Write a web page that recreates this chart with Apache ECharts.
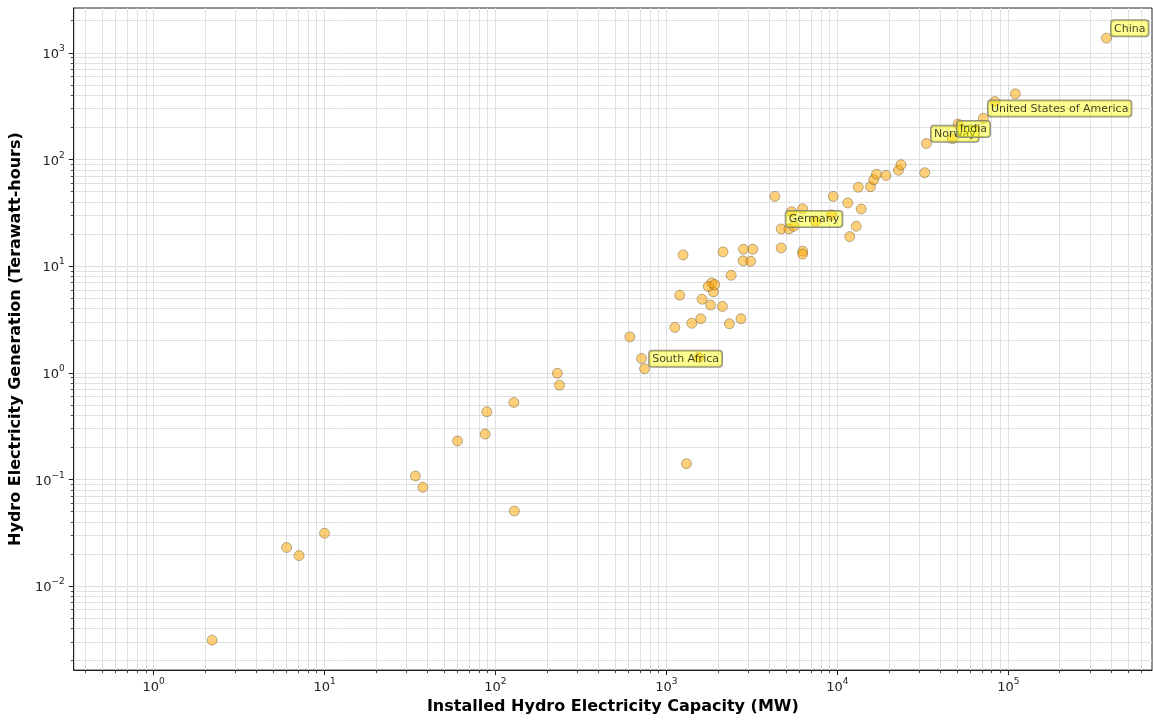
<!DOCTYPE html>
<html>
<head>
<meta charset="utf-8">
<script src="https://cdn.jsdelivr.net/npm/echarts@6/dist/echarts.min.js"></script>
<style>
html, body { margin: 0; padding: 0; background: #fff; }
#chart { width: 1153px; height: 720px; }
</style>
</head>
<body>
<div id="chart"></div>
<script>
// installed capacity (MW) and generation (TWh), one entry per country
const capacityMW = [2.2, 6.0, 7.1, 10, 34, 37.6, 60, 87, 89, 128, 129, 230, 237, 611, 715, 745, 1311, 1120, 1407, 1588,
  2336, 2731, 1197, 1616, 1812, 2127, 1884, 1842, 1757, 1917, 2393, 1252, 2144, 2824, 3205, 2813, 3112, 4690, 6280, 6263,
  4690, 5209, 5570, 4314, 5401, 6263, 7459, 9250, 9463, 11515, 13790, 12893, 11814, 13264, 15624, 16340, 16943, 19253,
  22779, 23560, 32440, 33190, 47100, 50840, 71450, 83400, 109900, 375200, 1546]
const generationTWh = [0.00311, 0.0230, 0.0193, 0.0313, 0.1076, 0.0843, 0.229, 0.266, 0.431, 0.527, 0.0506, 0.99, 0.765,
  2.17, 1.36, 1.09, 0.1406, 2.66, 2.91, 3.21, 2.88, 3.21, 5.33, 4.89, 4.31, 4.19, 5.73, 6.96, 6.45, 6.71, 8.20, 12.73,
  13.6, 14.4, 14.4, 11.2, 11.1, 14.8, 13.8, 12.95, 22.3, 22.3, 23.6, 45.0, 32.4, 34.5, 26.4, 30.3, 45.0, 39.1, 34.3,
  23.6, 18.9, 54.9, 55.5, 64.5, 72.7, 70.8, 79.2, 89.2, 75.1, 140.9, 156.2, 214.6, 243, 349, 412, 1370, 1.39]

// annotated countries (index into the arrays above)
const annotationNames = ['South Africa', 'Germany', 'Norway', 'India', 'United States of America', 'China']
const annotationIndex = [15, 40, 61, 62, 64, 67]

// major tick values
const xMajorTicks = [1, 10, 100, 1000, 10000, 100000]
const yMajorTicks = [0.01, 0.1, 1, 10, 100, 1000]

const X_MIN = 0.341
const X_MAX = 693000
const Y_MIN = 0.00163
const Y_MAX = 2630

const FONT = 'DejaVu Sans'
const GRID_COLOR = '#e0e0e0'

// 2..9 x 10^k inside [lo, hi]
function minorTicks (lo, hi) {
  const out = []
  for (let k = Math.floor(Math.log10(lo)); k <= Math.ceil(Math.log10(hi)); k++) {
    for (let m = 2; m <= 9; m++) {
      const v = m * Math.pow(10, k)
      if (v >= lo && v <= hi) out.push(v)
    }
  }
  return out
}

function powLabel (v) {
  const e = Math.round(Math.log10(v))
  return '{b|10}{s|' + (e < 0 ? '\u2212' + (-e) : e) + '}'
}

const labelRich = {
  b: { fontFamily: FONT, fontSize: 13, color: '#222', padding: [4, 0, 0, 0], verticalAlign: 'bottom' },
  s: { fontFamily: FONT, fontSize: 9, color: '#222', verticalAlign: 'top' }
}

function majorAxis (min, max, ticks, margin) {
  return {
    type: 'log',
    logBase: 10,
    min: min,
    max: max,
    gridIndex: 0,
    axisLine: { show: true, onZero: false, lineStyle: { color: '#222', width: 1 } },
    axisTick: { show: true, length: 5, customValues: ticks, lineStyle: { color: '#222', width: 1 } },
    axisLabel: { customValues: ticks, formatter: powLabel, margin: margin, rich: labelRich },
    splitLine: { show: true, lineStyle: { color: GRID_COLOR, width: 1 } },
    nameTextStyle: { fontFamily: FONT, fontSize: 16, fontWeight: 'bold', color: '#000' }
  }
}

function minorAxis (min, max, pos) {
  const ticks = minorTicks(min, max)
  return {
    type: 'log',
    logBase: 10,
    min: min,
    max: max,
    gridIndex: 0,
    position: pos,
    axisLine: { show: false, onZero: false },
    axisTick: { show: true, length: 3, customValues: ticks, lineStyle: { color: '#222', width: 0.8 } },
    axisLabel: { show: false },
    splitLine: { show: true, lineStyle: { color: GRID_COLOR, width: 1 } }
  }
}

const xMain = majorAxis(X_MIN, X_MAX, xMajorTicks, 7)
xMain.position = 'bottom'
xMain.name = 'Installed Hydro Electricity Capacity (MW)'
xMain.nameLocation = 'middle'
xMain.nameGap = 26

const yMain = majorAxis(Y_MIN, Y_MAX, yMajorTicks, 9)
yMain.position = 'left'
yMain.name = 'Hydro Electricity Generation (Terawatt-hours)'
yMain.nameLocation = 'middle'
yMain.nameGap = 46

const points = capacityMW.map(function (x, i) {
  const item = { value: [x, generationTWh[i]] }
  const j = annotationIndex.indexOf(i)
  if (j >= 0) {
    item.name = annotationNames[j]
    item.label = {
      show: true,
      formatter: '{b}',
      position: [10, 3.5],
      align: 'left',
      verticalAlign: 'bottom',
      fontFamily: FONT,
      fontSize: 11,
      lineHeight: 13,
      color: '#111',
      backgroundColor: 'rgba(255,255,0,0.55)',
      borderColor: '#777',
      borderWidth: 1,
      borderRadius: 3,
      padding: [2, 3, 1, 3]
    }
  }
  return item
})

const chart = echarts.init(document.getElementById('chart'))
chart.setOption({
  animation: false,
  grid: {
    left: 72, top: 8, right: 1, bottom: 49,
    show: true, borderColor: '#222', borderWidth: 1, backgroundColor: '#fff'
  },
  xAxis: [xMain, minorAxis(X_MIN, X_MAX, 'bottom')],
  yAxis: [yMain, minorAxis(Y_MIN, Y_MAX, 'left')],
  series: [{
    type: 'scatter',
    xAxisIndex: 0,
    yAxisIndex: 0,
    symbolSize: 10,
    itemStyle: { color: 'rgba(255,165,0,0.65)', borderColor: 'rgba(70,60,40,0.6)', borderWidth: 0.8 },
    emphasis: { disabled: true },
    data: points
  }]
})
</script>
</body>
</html>
